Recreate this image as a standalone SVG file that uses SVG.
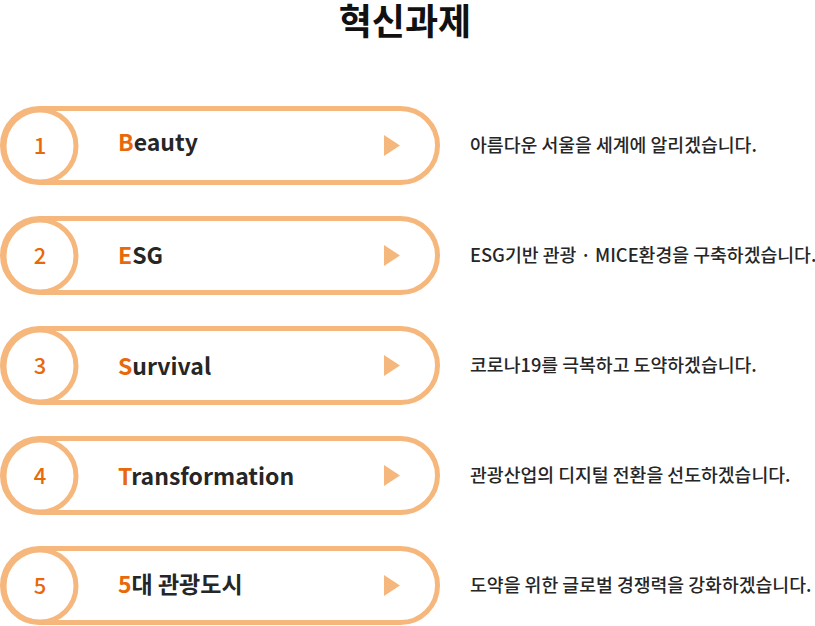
<svg xmlns="http://www.w3.org/2000/svg" width="815" height="626" viewBox="0 0 815 626">
<defs>
<style>
.pill{fill:#fff;stroke:#f6b77d;stroke-width:5}
.circ{fill:#fff;stroke:#f6b77d;stroke-width:5}
.tri{fill:#f6b77d}
.num{font-family:"Noto Sans CJK KR","Noto Sans",sans-serif;font-size:22px;font-weight:500;fill:#e8680c;text-anchor:middle}
.lbl{font-family:"Noto Sans CJK KR","Noto Sans",sans-serif;font-size:23px;font-weight:700;fill:#262626}
.hl{fill:#e8680c}
.desc{font-family:"Noto Sans CJK KR","Noto Sans",sans-serif;font-size:18.3px;font-weight:500;fill:#262626}
.title{font-family:"Noto Sans CJK KR","Noto Sans",sans-serif;font-size:36px;font-weight:700;fill:#111;text-anchor:middle}
</style>
</defs>
<text class="title" x="405" y="35">혁신과제</text>
<g id="item1">
<rect class="pill" x="2.5" y="108.5" width="435" height="74" rx="37"/>
<circle class="circ" cx="40" cy="146" r="36"/>
<text class="num" x="40" y="154">1</text>
<text class="lbl" x="118" y="151"><tspan class="hl">B</tspan>eauty</text>
<polygon class="tri" points="384,135 400,145.5 384,156"/>
<text class="desc" x="470" y="152">아름다운 서울을 세계에 알리겠습니다.</text>
</g>
<g id="item2">
<rect class="pill" x="2.5" y="218.5" width="435" height="74" rx="37"/>
<circle class="circ" cx="40" cy="256" r="36"/>
<text class="num" x="40" y="264">2</text>
<text class="lbl" x="118" y="264"><tspan class="hl">E</tspan>SG</text>
<polygon class="tri" points="384,245 400,255.5 384,266"/>
<text class="desc" x="470" y="262">ESG기반 관광 · MICE환경을 구축하겠습니다.</text>
</g>
<g id="item3">
<rect class="pill" x="2.5" y="328.5" width="435" height="74" rx="37"/>
<circle class="circ" cx="40" cy="366" r="36"/>
<text class="num" x="40" y="374">3</text>
<text class="lbl" x="118" y="375"><tspan class="hl">S</tspan>urvival</text>
<polygon class="tri" points="384,355 400,365.5 384,376"/>
<text class="desc" x="470" y="372">코로나19를 극복하고 도약하겠습니다.</text>
</g>
<g id="item4">
<rect class="pill" x="2.5" y="438.5" width="435" height="74" rx="37"/>
<circle class="circ" cx="40" cy="476" r="36"/>
<text class="num" x="40" y="484">4</text>
<text class="lbl" x="118" y="485"><tspan class="hl">T</tspan>ransformation</text>
<polygon class="tri" points="384,465 400,475.5 384,486"/>
<text class="desc" x="470" y="482">관광산업의 디지털 전환을 선도하겠습니다.</text>
</g>
<g id="item5">
<rect class="pill" x="2.5" y="548.5" width="435" height="74" rx="37"/>
<circle class="circ" cx="40" cy="586" r="36"/>
<text class="num" x="40" y="594">5</text>
<text class="lbl" x="118" y="593"><tspan class="hl">5</tspan>대 관광도시</text>
<polygon class="tri" points="384,575 400,585.5 384,596"/>
<text class="desc" x="470" y="592">도약을 위한 글로벌 경쟁력을 강화하겠습니다.</text>
</g>
</svg>
